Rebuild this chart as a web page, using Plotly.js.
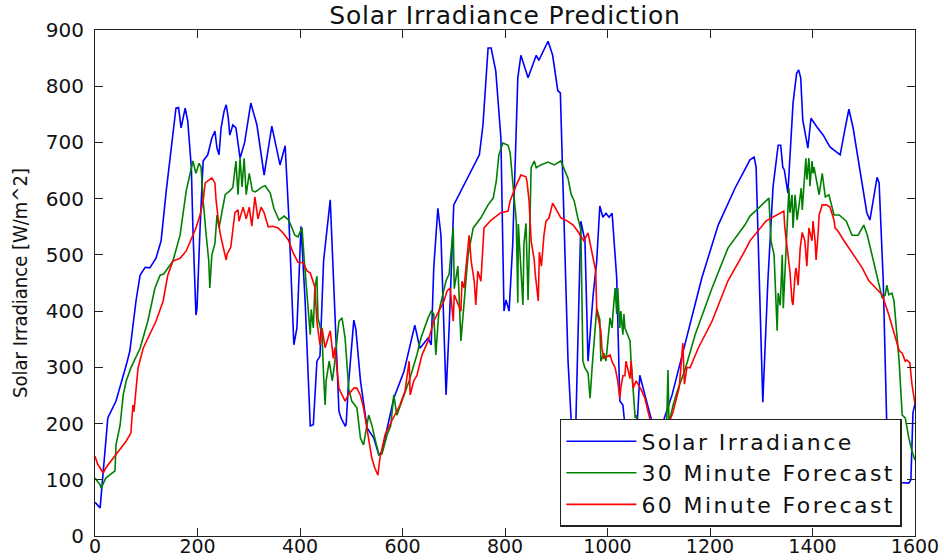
<!DOCTYPE html>
<html>
<head>
<meta charset="utf-8">
<script src="https://cdn.plot.ly/plotly-3.0.1.min.js"></script>
<style>
  html, body { margin: 0; padding: 0; background: #fff; }
  #chart { width: 944px; height: 560px; }
  /* wide, airy lettering for the legend entries and the title */
  .legendtext { letter-spacing: 2.4px; }
  .gtitle { letter-spacing: 0.8px; }
</style>
</head>
<body>
<div id="chart"></div>
<script>
// Measured irradiance (sample index vs W/m^2)
const irrX = [0,10,25,41,61,68,80,88,98,107,119,129,139,152,158,163,168,176,181,188,191,197,199,205,211,220,228,234,238,242,246,252,256,260,263,269,275,283,292,304,316,330,345,361,371,378,388,394,402,410,420,426,433,439,446,459,469,476,480,488,490,494,505,509,518,531,544,554,560,583,603,624,634,650,656,661,669,675,685,691,700,714,733,750,757,767,773,782,792,798,802,808,815,825,831,845,861,866,884,893,903,908,923,929,933,938,948,956,962,972,979,985,991,997,1003,1009,1018,1024,1030,1034,1045,1055,1063,1073,1089,1097,1106,1126,1151,1184,1216,1249,1278,1286,1290,1298,1303,1313,1323,1333,1338,1342,1345,1352,1358,1362,1369,1373,1377,1381,1391,1397,1409,1421,1434,1454,1463,1471,1479,1493,1500,1506,1512,1518,1526,1530,1538,1545,1555,1570,1588,1592,1596,1600];
const irrY = [60,50,210,240,304,329,418,464,478,477,494,525,614,713,761,762,726,761,738,655,548,393,405,548,667,678,708,720,690,678,726,756,767,744,713,731,726,672,700,770,731,642,729,660,694,571,340,370,551,418,196,198,311,320,489,598,393,222,210,196,198,263,384,368,276,192,174,144,150,245,293,375,334,352,340,477,583,535,251,370,589,614,649,678,731,868,868,827,708,400,420,400,518,815,855,815,855,846,880,855,792,788,311,192,140,192,560,525,311,429,489,587,567,574,567,574,459,240,233,197,120,150,286,251,196,150,196,251,340,459,553,619,669,674,656,420,238,455,621,695,695,656,651,610,704,770,823,829,815,740,690,743,727,713,692,678,722,759,727,651,610,575,562,598,638,628,455,194,110,95,94,100,219,235];

// 30 minute ahead forecast
const f30X = [0,10,12,21,39,41,49,55,61,70,88,103,117,127,134,152,166,172,178,185,191,197,203,207,211,217,222,224,228,234,238,242,254,263,269,275,279,283,287,291,295,301,307,312,316,326,332,342,349,359,369,378,390,396,404,408,414,418,420,422,426,429,433,435,443,446,449,451,457,463,467,476,482,488,495,501,511,518,524,534,540,546,554,560,570,577,583,589,599,613,628,636,650,656,661,665,671,679,685,691,699,701,708,714,720,728,738,753,767,777,783,788,796,806,810,815,822,825,826,835,837,841,845,851,857,861,870,884,896,909,914,923,929,935,942,948,952,956,962,966,970,979,985,987,993,997,1005,1009,1011,1015,1018,1020,1024,1026,1030,1032,1034,1044,1046,1050,1054,1056,1065,1080,1100,1115,1118,1120,1128,1137,1151,1171,1204,1235,1268,1278,1291,1315,1319,1325,1331,1333,1337,1341,1343,1350,1354,1356,1360,1362,1366,1370,1378,1380,1387,1389,1393,1395,1399,1401,1403,1413,1419,1425,1432,1442,1452,1466,1477,1489,1500,1507,1516,1524,1530,1536,1542,1545,1549,1555,1559,1563,1569,1575,1581,1588,1594,1600];
const f30Y = [103,91,85,103,116,162,197,251,276,299,334,382,441,464,466,489,535,571,614,642,667,645,663,656,596,535,489,441,500,520,571,548,607,614,620,667,607,672,621,672,607,645,614,612,614,621,623,610,583,562,569,562,535,532,548,494,429,388,358,403,370,441,462,388,358,286,233,276,311,276,303,382,388,352,263,240,228,174,162,215,198,174,144,146,180,196,251,215,240,276,322,352,388,400,395,322,400,429,454,466,548,440,480,347,420,500,548,566,589,601,631,678,699,695,682,636,560,415,555,411,520,556,420,655,667,655,660,665,660,667,655,636,608,596,566,545,311,299,290,245,300,405,385,311,325,311,388,370,400,441,395,441,370,400,358,395,370,347,311,258,210,215,170,140,150,180,295,200,233,260,295,358,441,512,553,569,580,601,525,500,365,432,410,500,405,548,619,575,607,548,607,562,619,580,672,634,672,622,667,645,656,607,645,603,607,571,571,560,535,535,553,535,500,471,446,423,429,446,429,432,418,370,311,215,210,174,151,135];

// 60 minute ahead forecast
const f60X = [0,5,10,16,21,41,61,70,74,76,84,94,107,119,133,142,152,166,178,187,197,205,211,215,228,234,236,240,244,250,256,258,265,273,279,281,289,295,301,306,312,318,324,330,338,347,357,367,377,387,396,406,414,420,429,433,439,443,449,459,465,468,471,476,482,488,494,505,511,518,524,530,540,546,552,556,566,577,585,595,605,613,615,622,628,638,650,661,671,681,687,693,699,701,714,716,720,723,728,730,734,740,743,747,753,759,773,792,806,810,822,831,841,843,847,851,857,859,865,867,871,876,880,886,893,899,909,922,933,942,954,962,970,977,979,983,987,989,993,1005,1009,1015,1020,1024,1026,1030,1034,1036,1044,1046,1050,1056,1067,1073,1079,1090,1100,1110,1118,1128,1140,1147,1150,1155,1161,1177,1204,1235,1268,1278,1309,1344,1346,1350,1356,1360,1362,1366,1368,1372,1374,1376,1380,1385,1389,1393,1399,1401,1405,1407,1411,1413,1419,1427,1434,1442,1444,1450,1458,1471,1485,1497,1510,1524,1536,1549,1563,1569,1575,1581,1584,1590,1594,1600];
const f60Y = [142,128,121,112,121,144,169,183,233,221,299,334,358,382,418,464,489,494,507,525,548,571,596,628,637,628,600,567,539,514,491,502,514,575,580,560,585,564,585,551,603,564,585,575,550,551,548,539,527,503,487,486,471,468,443,382,340,370,335,365,316,335,310,263,251,240,251,263,263,250,228,192,139,121,108,139,180,201,215,233,258,311,251,276,285,322,347,382,400,418,436,441,382,429,400,453,441,471,512,535,489,453,411,471,453,548,562,575,578,596,624,642,639,630,596,525,491,466,418,505,480,535,560,566,592,583,566,560,553,542,525,539,500,471,400,382,365,335,316,322,310,299,276,245,263,285,285,311,280,311,263,276,258,245,221,180,150,170,196,221,265,343,270,300,299,334,382,454,507,525,560,578,548,512,470,418,411,466,477,446,477,512,540,525,480,548,525,560,525,491,539,571,589,589,585,562,548,542,530,512,494,477,454,441,429,393,347,330,325,311,313,308,270,235];

// Legend / axis labels
const seriesNames = ['Solar Irradiance', '30 Minute Forecast', '60 Minute Forecast'];
const xTicks = [0,200,400,600,800,1000,1200,1400,1600];
const yTicks = [0,100,200,300,400,500,600,700,800,900];

const lineW = 1.6;
const traces = [
  {x: irrX, y: irrY, name: seriesNames[0], line: {color: '#0000ff', width: lineW}},
  {x: f30X, y: f30Y, name: seriesNames[1], line: {color: '#008000', width: lineW}},
  {x: f60X, y: f60Y, name: seriesNames[2], line: {color: '#ff0000', width: lineW}}
].map(t => Object.assign({type: 'scatter', mode: 'lines', hoverinfo: 'skip'}, t));

const axisCommon = {
  showgrid: false,
  zeroline: false,
  showline: true,
  linecolor: '#222',
  linewidth: 1,
  mirror: 'ticks',
  ticks: 'inside',
  ticklen: 8,
  tickwidth: 1,
  tickcolor: '#222',
  tickfont: {family: 'DejaVu Sans, sans-serif', size: 20, color: '#111'},
  automargin: false,
  fixedrange: true
};

const layout = {
  width: 944,
  height: 560,
  margin: {l: 95, r: 29, t: 30, b: 24},
  paper_bgcolor: '#fff',
  plot_bgcolor: '#fff',
  showlegend: true,
  title: {
    text: 'Solar Irradiance Prediction',
    font: {family: 'DejaVu Sans, sans-serif', size: 25, color: '#111'},
    x: 0.5, xref: 'paper', xanchor: 'center',
    y: 1, yref: 'paper', yanchor: 'bottom',
    pad: {b: 6}
  },
  xaxis: Object.assign({}, axisCommon, {
    range: [0, 1600],
    tickmode: 'array',
    tickvals: xTicks,
    ticktext: xTicks.map(String),
    tickfont: {family: 'DejaVu Sans, sans-serif', size: 19, color: '#111'},
    ticklabelstandoff: -7
  }),
  yaxis: Object.assign({}, axisCommon, {
    range: [0, 900],
    tickmode: 'array',
    tickvals: yTicks,
    ticktext: yTicks.map(String),
    ticklabelstandoff: 6,
    title: {
      text: 'Solar Irradiance [W/m^2]',
      font: {family: 'Liberation Sans Narrow, DejaVu Sans Condensed, DejaVu Sans, sans-serif', size: 20, color: '#111'},
      standoff: 12
    }
  }),
  legend: {
    x: 0.984, xanchor: 'right', xref: 'paper',
    y: 0.018, yanchor: 'bottom', yref: 'paper',
    bgcolor: '#fff',
    bordercolor: '#222',
    borderwidth: 1.5,
    itemwidth: 70,
    font: {family: 'DejaVu Sans, sans-serif', size: 22, color: '#111'},
    tracegroupgap: 0
  }
};

Plotly.newPlot('chart', traces, layout, {staticPlot: true, displayModeBar: false});
</script>
</body>
</html>
